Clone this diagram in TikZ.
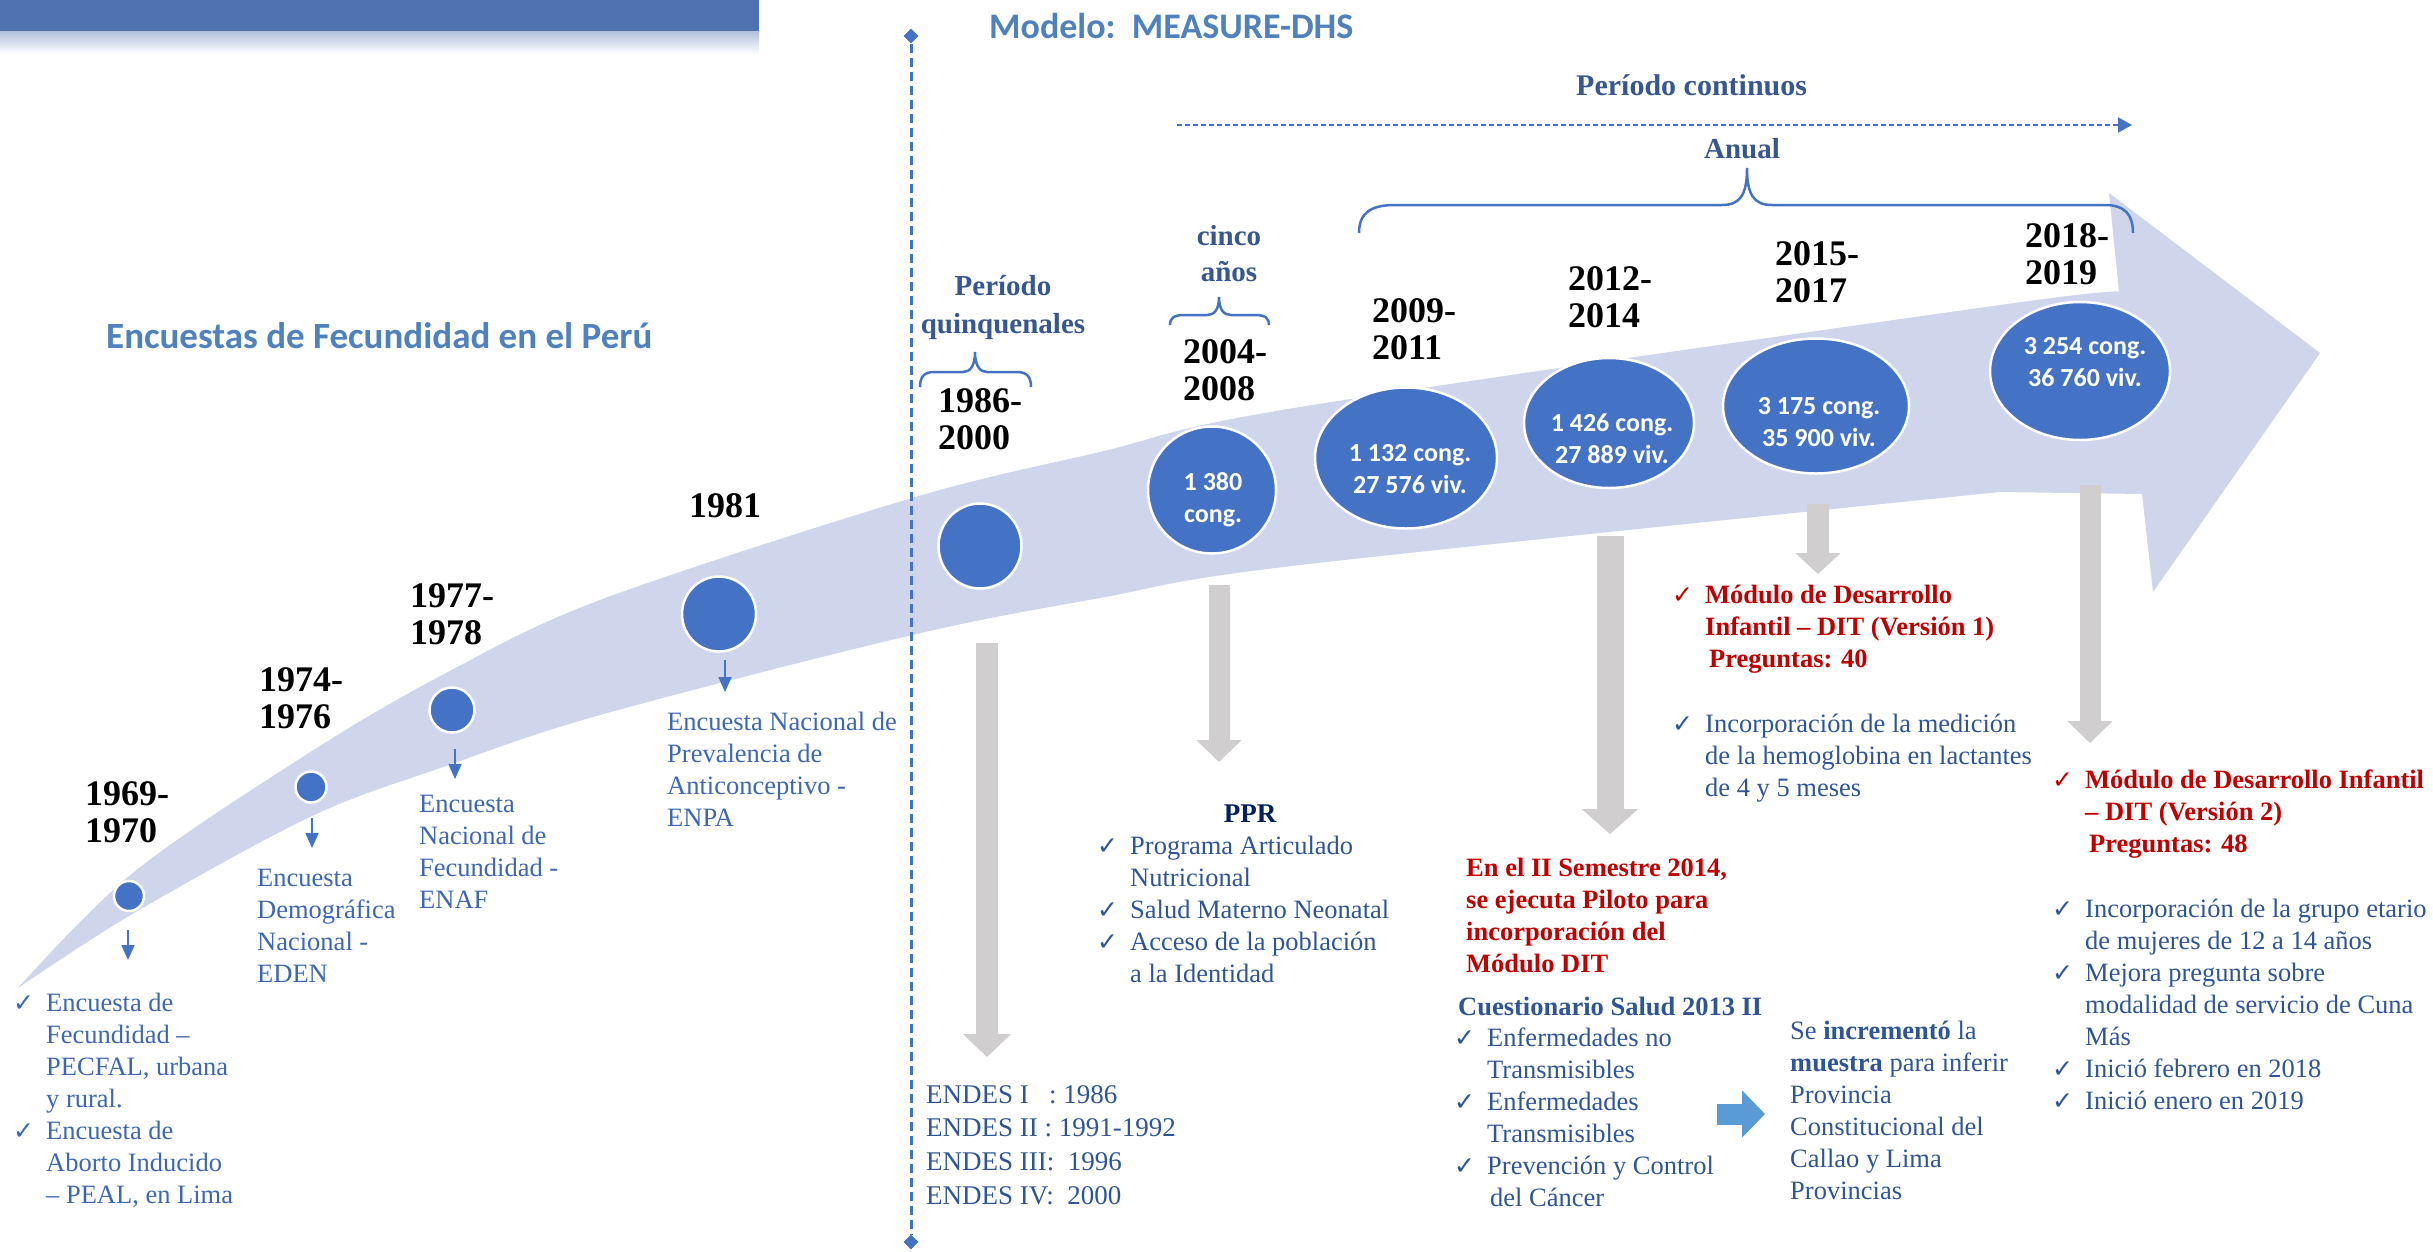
\documentclass[tikz,border=0pt]{standalone}
\usepackage{fontspec}
\setmainfont{Liberation Serif}
\newfontfamily\calfont{Carlito}
\newfontfamily\dvfont{DejaVu Sans}
\usetikzlibrary{arrows.meta,shapes.geometric}

\definecolor{bandc}{RGB}{207,213,234}
\definecolor{lineb}{RGB}{68,114,196}
\definecolor{circb}{RGB}{68,114,196}
\definecolor{hdrb}{RGB}{79,129,189}
\definecolor{slateb}{RGB}{56,87,145}
\definecolor{bodyb}{RGB}{47,85,151}
\definecolor{leftb}{RGB}{61,103,180}
\definecolor{redc}{RGB}{192,0,0}
\definecolor{greyc}{RGB}{208,206,206}
\definecolor{navyc}{RGB}{0,32,96}
\definecolor{arrb}{RGB}{91,155,213}
\definecolor{barc}{RGB}{79,114,176}

\newcommand\ck{\makebox[33pt][l]{\dvfont\fontsize{25}{25}\selectfont ✓}}
\newcommand\ind{\hskip33pt}
\newcommand\lstack[1]{\vtop{\halign{##\hfil\cr#1\crcr}}}
\newcommand\cstack[1]{\vtop{\halign{\hfil##\hfil\cr#1\crcr}}}

\tikzset{
  yr/.style={anchor=base west, inner sep=0pt, font=\bfseries\fontsize{36}{37}\selectfont},
  txt/.style={anchor=base west, inner sep=0pt, font=\fontsize{26.5}{32}\selectfont},
  btxt/.style={anchor=base west, inner sep=0pt, font=\bfseries\fontsize{26.5}{32}\selectfont},
  lbl/.style={anchor=base, inner sep=0pt, font=\bfseries\fontsize{29}{36}\selectfont, text=slateb},
  dot/.style={ellipse, fill=circb, draw=white, line width=2.5pt, inner sep=0pt},
  ctext/.style={align=center, inner sep=0pt, text=white, font=\calfont\bfseries\fontsize{26}{32}\selectfont},
  smallarr/.style={draw=lineb, line width=1.6pt, -{Triangle[width=13pt,length=15pt]}},
  bracec/.style={draw=lineb, line width=2.5pt},
  enddiam/.style={diamond, fill=lineb, minimum width=15pt, minimum height=15pt, inner sep=0pt},
}

\begin{document}
\begin{tikzpicture}[x=1pt,y=-1pt]
\useasboundingbox (0,0) rectangle (2433,1251);
\fill[white] (0,0) rectangle (2433,1251);

% top bar
\fill[barc] (0,0) rectangle (759,31);
\shade[top color=barc!45, bottom color=white] (0,31) rectangle (759,54);

% big curved arrow band
\fill[bandc] plot[smooth, tension=0.55] coordinates {(18,988) (134,872) (312,751) (446,673) (600,600) (912,498) (1100,452) (1300,407) (2000,305) (2119,292)}
  -- (2109,193) -- (2320,353) -- (2153,592) -- (2142,494)
  -- plot[smooth, tension=0.55] coordinates {(2000,492) (1300,565) (1100,598) (912,635) (600,715) (446,766) (312,816) (134,913) (18,988)} -- cycle;

% dashed vertical separator
\node[enddiam] (dtop) at (911,36) {};
\node[enddiam] (dbot) at (911,1242) {};
\draw[lineb, line width=3pt, dash pattern=on 9pt off 5pt] (dtop) -- (dbot);

% titles
\node[anchor=base west, inner sep=0pt, font=\calfont\bfseries\fontsize{36}{40}\selectfont, text=hdrb] (modelo) at (989,38) {Modelo:\ \ MEASURE-DHS};
\node[anchor=base west, inner sep=0pt, font=\calfont\bfseries\fontsize{37}{40}\selectfont, text=hdrb] (titulo) at (106,348) {Encuestas de Fecundidad en el Perú};
\node[anchor=base west, inner sep=0pt, font=\bfseries\fontsize{30}{36}\selectfont, text=slateb] (pcont) at (1576,95) {Período continuos};
\coordinate (dots) at (1177,125);
\coordinate (dote) at (2132,125);
\draw[lineb, line width=2pt, dash pattern=on 5pt off 3pt, -{Triangle[width=15pt,length=14pt]}] (dots) -- (dote);
\node[lbl] (anual) at (1742,158) {Anual};
\node[lbl] (cinco) at (1229,245) {\cstack{cinco\cr años}};
\node[lbl, font=\bfseries\fontsize{29}{38}\selectfont] (quinq) at (1003,295) {\cstack{Período\cr quinquenales}};

% braces
\draw[bracec] (1359,233) .. controls (1359,212) and (1372,205) .. (1395,205) -- (1722,205) .. controls (1740,205) and (1747,195) .. (1747,168) .. controls (1747,195) and (1754,205) .. (1772,205) -- (2105,205) .. controls (2125,205) and (2133,215) .. (2133,233);
\draw[bracec] (1170,325) .. controls (1170,318) and (1174,315) .. (1184,315) -- (1207,315) .. controls (1214,315) and (1219,310) .. (1219,297) .. controls (1219,310) and (1224,315) .. (1231,315) -- (1255,315) .. controls (1265,315) and (1269,318) .. (1269,325);
\draw[bracec] (920,387) .. controls (920,377) and (924,372) .. (934,372) -- (963,372) .. controls (970,372) and (975,366) .. (975,352) .. controls (975,366) and (980,372) .. (987,372) -- (1017,372) .. controls (1027,372) and (1031,377) .. (1031,387);

% year labels
\node[yr] (y1) at (85,805) {\lstack{1969-\cr 1970}};
\node[yr] (y2) at (259,691) {\lstack{1974-\cr 1976}};
\node[yr] (y3) at (410,607) {\lstack{1977-\cr 1978}};
\node[yr] (y4) at (689,517) {1981};
\node[yr] (y5) at (938,412) {\lstack{1986-\cr 2000}};
\node[yr] (y6) at (1183,363) {\lstack{2004-\cr 2008}};
\node[yr] (y7) at (1372,322) {\lstack{2009-\cr 2011}};
\node[yr] (y8) at (1568,290) {\lstack{2012-\cr 2014}};
\node[yr] (y9) at (1775,265) {\lstack{2015-\cr 2017}};
\node[yr] (y10) at (2025,247) {\lstack{2018-\cr 2019}};

% circles
\node[dot, minimum width=30pt, minimum height=30pt] (c1) at (129,896) {};
\node[dot, minimum width=31pt, minimum height=31pt] (c2) at (311,787) {};
\node[dot, minimum width=45pt, minimum height=45pt] (c3) at (452,710) {};
\node[dot, minimum width=74pt, minimum height=75pt] (c4) at (719,614) {};
\node[dot, minimum width=83pt, minimum height=85pt] (c5) at (980,546) {};
\node[dot, minimum width=128pt, minimum height=127pt] (c6) at (1212,490) {};
\node[dot, minimum width=182pt, minimum height=141pt] (c7) at (1406,458) {};
\node[dot, minimum width=170pt, minimum height=130pt] (c8) at (1609,423) {};
\node[dot, minimum width=186pt, minimum height=135pt] (c9) at (1816,406) {};
\node[dot, minimum width=180pt, minimum height=138pt] (c10) at (2080,371) {};

\node[ctext] (t6) at (1213,500) {1 380\\cong.};
\node[ctext] (t7) at (1410,469) {1 132 cong.\\27 576 viv.};
\node[ctext] (t8) at (1612,439) {1 426 cong.\\27 889 viv.};
\node[ctext] (t9) at (1819,422) {3 175 cong.\\35 900 viv.};
\node[ctext] (t10) at (2085,362) {3 254 cong.\\36 760 viv.};

% small blue arrows
\coordinate (a1s) at (128,930); \coordinate (a1e) at (128,960);
\coordinate (a2s) at (312,818); \coordinate (a2e) at (312,848);
\coordinate (a3s) at (455,749); \coordinate (a3e) at (455,779);
\coordinate (a4s) at (725,660); \coordinate (a4e) at (725,692);
\draw[smallarr] (a1s) -- (a1e);
\draw[smallarr] (a2s) -- (a2e);
\draw[smallarr] (a3s) -- (a3e);
\draw[smallarr] (a4s) -- (a4e);

% grey block arrows
\coordinate (g1s) at (987,643);  \coordinate (g1e) at (987,1057);
\coordinate (g2s) at (1219,585); \coordinate (g2e) at (1219,762);
\coordinate (g3s) at (1610,536); \coordinate (g3e) at (1610,834);
\coordinate (g4s) at (1818,504); \coordinate (g4e) at (1818,574);
\coordinate (g5s) at (2090,485); \coordinate (g5e) at (2090,743);
\draw[greyc, line width=22pt, -{Triangle[width=47pt,length=23pt]}] (g1s) -- (g1e);
\draw[greyc, line width=21pt, -{Triangle[width=44pt,length=22pt]}] (g2s) -- (g2e);
\draw[greyc, line width=27pt, -{Triangle[width=55pt,length=25pt]}] (g3s) -- (g3e);
\draw[greyc, line width=22pt, -{Triangle[width=44pt,length=21pt]}] (g4s) -- (g4e);
\draw[greyc, line width=21pt, -{Triangle[width=44pt,length=22pt]}] (g5s) -- (g5e);

% left texts
\node[txt, text=leftb] (l1) at (13,1011) {\lstack{\ck Encuesta de\cr\ind Fecundidad –\cr\ind PECFAL, urbana\cr\ind y rural.\cr\ck Encuesta de\cr\ind Aborto Inducido\cr\ind – PEAL, en Lima}};
\node[txt, text=leftb] (l2) at (257,886) {\lstack{Encuesta\cr Demográfica\cr Nacional -\cr EDEN}};
\node[txt, text=leftb] (l3) at (419,812) {\lstack{Encuesta\cr Nacional de\cr Fecundidad -\cr ENAF}};
\node[txt, text=leftb] (l4) at (667,730) {\lstack{Encuesta Nacional de\cr Prevalencia de\cr Anticonceptivo -\cr ENPA}};

% ENDES
\node[txt, text=bodyb, font=\fontsize{27}{33.7}\selectfont] (endes) at (926,1103) {\lstack{ENDES I\ \ \ : 1986\cr ENDES II\ : 1991-1992\cr ENDES III:\ \ 1996\cr ENDES IV:\ \ 2000}};

% PPR
\node[anchor=base, inner sep=0pt, font=\bfseries\fontsize{27}{32}\selectfont, text=navyc] (ppr) at (1250,822) {PPR};
\node[txt, text=bodyb] (pprl) at (1097,854) {\lstack{\ck Programa Articulado\cr\ind Nutricional\cr\ck Salud Materno Neonatal\cr\ck Acceso de la población\cr\ind a la Identidad}};

% 2015 block
\node[btxt, text=redc] (m1) at (1672,603) {\lstack{\ck Módulo de Desarrollo\cr\ind Infantil – DIT (Versión 1)\cr\ind\hskip4pt Preguntas: 40}};
\node[txt, text=bodyb] (m1b) at (1672,732) {\lstack{\ck Incorporación de la medición\cr\ind de la hemoglobina en lactantes\cr\ind de 4 y 5 meses}};

% 2012 block
\node[btxt, text=redc] (pil) at (1466,876) {\lstack{En el II Semestre 2014,\cr se ejecuta Piloto para\cr incorporación del\cr Módulo DIT}};
\node[btxt, text=bodyb] (cues) at (1458,1015) {Cuestionario Salud 2013 II};
\node[txt, text=bodyb] (cuesl) at (1454,1046) {\lstack{\ck Enfermedades no\cr\ind Transmisibles\cr\ck Enfermedades\cr\ind Transmisibles\cr\ck Prevención y Control\cr\ind\hskip3pt del Cáncer}};
\coordinate (bas) at (1717,1114);
\coordinate (bae) at (1765,1114);
\draw[arrb, line width=21pt, -{Triangle[width=46pt,length=23pt]}] (bas) -- (bae);
\node[txt, text=bodyb] (incr) at (1790,1039) {\lstack{Se \textbf{incrementó} la\cr\textbf{muestra} para inferir\cr Provincia\cr Constitucional del\cr Callao y Lima\cr Provincias}};

% 2018 block
\node[btxt, text=redc] (m2) at (2052,788) {\lstack{\ck Módulo de Desarrollo Infantil\cr\ind – DIT (Versión 2)\cr\ind\hskip4pt Preguntas: 48}};
\node[txt, text=bodyb] (m2b) at (2052,917) {\lstack{\ck Incorporación de la grupo etario\cr\ind de mujeres de 12 a 14 años\cr\ck Mejora pregunta sobre\cr\ind modalidad de servicio de Cuna\cr\ind Más\cr\ck Inició febrero en 2018\cr\ck Inició enero en 2019}};
\end{tikzpicture}
\end{document}
